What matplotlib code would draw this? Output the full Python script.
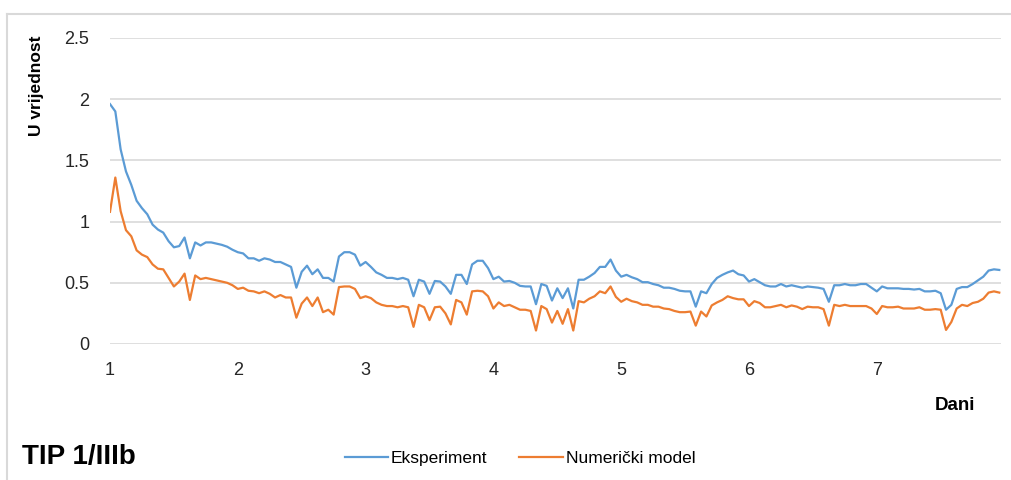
import matplotlib.pyplot as plt
import numpy as np

plt.rcParams['font.family'] = ['Liberation Sans', 'DejaVu Sans']

# mjerenja svakih sat vremena, od 1. do 8. dana
eksperiment = [
    1.96, 1.90, 1.59, 1.41, 1.30, 1.17, 1.11, 1.06, 0.975, 0.935, 0.91, 0.84,
    0.79, 0.80, 0.87, 0.70, 0.83, 0.805, 0.83, 0.83, 0.82, 0.81, 0.795, 0.77,
    0.75, 0.74, 0.70, 0.70, 0.68, 0.70, 0.69, 0.67, 0.67, 0.65, 0.63, 0.46,
    0.59, 0.64, 0.57, 0.61, 0.54, 0.54, 0.51, 0.715, 0.75, 0.75, 0.73, 0.64,
    0.67, 0.63, 0.585, 0.565, 0.54, 0.54, 0.53, 0.54, 0.525, 0.39, 0.525, 0.51,
    0.41, 0.515, 0.51, 0.47, 0.41, 0.565, 0.565, 0.49, 0.65, 0.68, 0.68, 0.62,
    0.53, 0.55, 0.51, 0.515, 0.50, 0.475, 0.47, 0.47, 0.325, 0.49, 0.475, 0.355,
    0.455, 0.375, 0.455, 0.29, 0.525, 0.525, 0.55, 0.58, 0.63, 0.63, 0.69, 0.60,
    0.55, 0.565, 0.545, 0.53, 0.505, 0.505, 0.49, 0.48, 0.46, 0.46, 0.45, 0.435,
    0.43, 0.43, 0.305, 0.43, 0.415, 0.49, 0.54, 0.565, 0.585, 0.60, 0.57, 0.56,
    0.51, 0.53, 0.505, 0.48, 0.47, 0.47, 0.49, 0.47, 0.48, 0.47, 0.46, 0.47,
    0.465, 0.46, 0.45, 0.345, 0.48, 0.48, 0.49, 0.48, 0.48, 0.49, 0.49, 0.46,
    0.43, 0.47, 0.455, 0.455, 0.455, 0.45, 0.45, 0.445, 0.45, 0.43, 0.43, 0.435,
    0.415, 0.28, 0.32, 0.45, 0.465, 0.465, 0.49, 0.52, 0.55, 0.60, 0.61, 0.605,
]

numericki_model = [
    1.08, 1.36, 1.085, 0.93, 0.88, 0.765, 0.73, 0.71, 0.65, 0.615, 0.61, 0.54,
    0.47, 0.51, 0.575, 0.36, 0.56, 0.53, 0.54, 0.53, 0.52, 0.51, 0.50, 0.48,
    0.45, 0.46, 0.435, 0.43, 0.415, 0.43, 0.41, 0.38, 0.40, 0.38, 0.38, 0.215,
    0.33, 0.38, 0.31, 0.38, 0.26, 0.28, 0.24, 0.465, 0.47, 0.47, 0.45, 0.375,
    0.39, 0.375, 0.34, 0.32, 0.31, 0.31, 0.30, 0.31, 0.30, 0.14, 0.32, 0.30,
    0.195, 0.30, 0.305, 0.25, 0.16, 0.36, 0.34, 0.24, 0.43, 0.435, 0.43, 0.39,
    0.29, 0.34, 0.31, 0.32, 0.30, 0.28, 0.28, 0.27, 0.11, 0.31, 0.285, 0.175,
    0.27, 0.165, 0.285, 0.11, 0.35, 0.34, 0.37, 0.39, 0.43, 0.415, 0.47, 0.385,
    0.345, 0.37, 0.35, 0.34, 0.32, 0.32, 0.305, 0.305, 0.29, 0.285, 0.27, 0.26,
    0.26, 0.265, 0.15, 0.265, 0.225, 0.315, 0.34, 0.36, 0.39, 0.375, 0.365, 0.365,
    0.31, 0.35, 0.335, 0.30, 0.30, 0.31, 0.32, 0.30, 0.315, 0.305, 0.285, 0.305,
    0.30, 0.30, 0.285, 0.15, 0.32, 0.31, 0.32, 0.31, 0.31, 0.31, 0.31, 0.29,
    0.245, 0.31, 0.30, 0.30, 0.305, 0.29, 0.29, 0.29, 0.30, 0.28, 0.28, 0.285,
    0.28, 0.115, 0.18, 0.29, 0.32, 0.31, 0.335, 0.345, 0.37, 0.42, 0.43, 0.42,
]

dani = 1 + np.arange(len(eksperiment)) / 24
x_ticks = [1, 2, 3, 4, 5, 6, 7]
y_ticks = [0, 0.5, 1, 1.5, 2, 2.5]

fig = plt.figure(figsize=(10.12, 4.8), dpi=100)
ax = fig.add_axes([110 / 1012, 136 / 480, 891 / 1012, 306 / 480])

ax.plot(dani, eksperiment, color='#5B9BD5', lw=1.6, label='Eksperiment')
ax.plot(dani, numericki_model, color='#ED7D31', lw=1.6, label='Numerički model')

ax.set_xlim(1, 1 + 891 / 127.8)
ax.set_ylim(0, 2.5)
ax.set_xticks(x_ticks)
ax.set_yticks(y_ticks)
ax.set_yticklabels(['0', '0.5', '1', '1.5', '2', '2.5'])
ax.tick_params(length=0, labelsize=13, colors='#262626')
ax.tick_params(axis='y', pad=15)
ax.tick_params(axis='x', pad=13)
ax.grid(axis='y', color='#d9d9d9', lw=1.2)
ax.set_axisbelow(True)
for s in ax.spines.values():
    s.set_visible(False)

fig.text(36 / 1012, 1 - 86 / 480, 'U vrijednost', rotation=90, fontsize=12.5,
         fontweight='bold', ha='center', va='center')
fig.text(975 / 1012, 1 - 405 / 480, 'Dani', fontsize=13.5, fontweight='bold',
         ha='right', va='center')
fig.text(22 / 1012, 1 - 457 / 480, 'TIP 1/IIIb', fontsize=20, fontweight='bold',
         ha='left', va='center')

fig.legend(loc='center', bbox_to_anchor=(520 / 1012, 1 - 458 / 480), ncol=2,
           frameon=False, fontsize=12.5, handlelength=2.5, handletextpad=0.17,
           columnspacing=1.85)

# okvir grafikona
fig.add_artist(plt.Line2D([7 / 1012, 7 / 1012], [0, 1 - 14 / 480],
                          color='#d9d9d9', lw=1.5))
fig.add_artist(plt.Line2D([7 / 1012, 1], [1 - 14 / 480, 1 - 14 / 480],
                          color='#d9d9d9', lw=1.5))

fig.savefig('out.png', dpi=100)
